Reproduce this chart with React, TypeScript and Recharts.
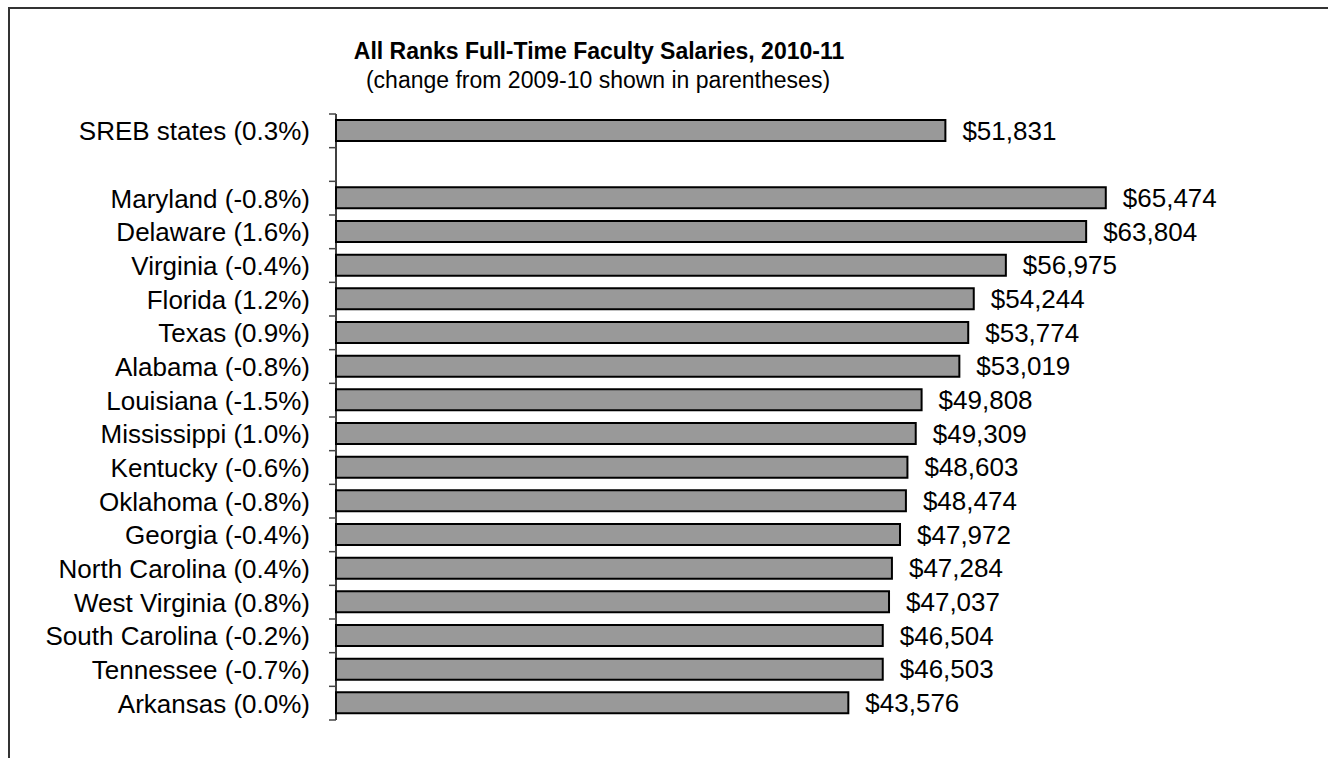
import React from 'react';
import { BarChart, Bar, XAxis, YAxis, LabelList } from 'recharts';

const states = [
  'SREB states', '', 'Maryland', 'Delaware', 'Virginia', 'Florida', 'Texas', 'Alabama',
  'Louisiana', 'Mississippi', 'Kentucky', 'Oklahoma', 'Georgia', 'North Carolina',
  'West Virginia', 'South Carolina', 'Tennessee', 'Arkansas',
];
const changes = [0.3, null, -0.8, 1.6, -0.4, 1.2, 0.9, -0.8, -1.5, 1.0, -0.6, -0.8, -0.4, 0.4, 0.8, -0.2, -0.7, 0.0];
const salaries = [
  51831, null, 65474, 63804, 56975, 54244, 53774, 53019, 49808, 49309,
  48603, 48474, 47972, 47284, 47037, 46504, 46503, 43576,
];

const FONT = '"Liberation Sans", Arial, Helvetica, sans-serif';

const data = states.map((s, i) => ({
  name: s ? `${s} (${(changes[i] as number).toFixed(1)}%)` : '',
  salary: salaries[i],
}));

function CatTick(props: any) {
  const { x, y, payload, index, visibleTicksCount } = props;
  const half = payload?.offset ?? 606 / states.length / 2;
  const isLast = index === (visibleTicksCount ?? states.length) - 1;
  return (
    <g>
      <line x1={x + 19} x2={x + 26} y1={y - half} y2={y - half} stroke="#444" strokeWidth={1.5} />
      {isLast && <line x1={x + 19} x2={x + 26} y1={y + half} y2={y + half} stroke="#444" strokeWidth={1.5} />}
      <text x={x} y={y} dy="0.36em" textAnchor="end" fontSize={26} fontFamily={FONT} fill="#000">
        {payload.value}
      </text>
    </g>
  );
}

export default function App() {
  return (
    <div style={{ position: 'absolute', left: 8, top: 7, width: 1320, height: 751 }}>
      <svg style={{ position: 'absolute', left: 0, top: 0 }} width={1320} height={110}>
        <text x={591} y={52} textAnchor="middle" fontSize={23} fontWeight="bold" fontFamily={FONT} fill="#000">
          All Ranks Full-Time Faculty Salaries, 2010-11
        </text>
        <text x={590} y={81} textAnchor="middle" fontSize={23} fontFamily={FONT} fill="#000">
          (change from 2009-10 shown in parentheses)
        </text>
      </svg>
      <div style={{ position: 'absolute', left: 0, top: 0 }}>
        <BarChart
          width={1320}
          height={740}
          data={data}
          layout="vertical"
          margin={{ top: 107, right: 169, bottom: 27, left: 0 }}
          barSize={21}
        >
          <XAxis type="number" domain={[0, 70000]} hide />
          <YAxis
            type="category"
            dataKey="name"
            width={328}
            interval={0}
            tickLine={false}
            tickSize={7}
            tickMargin={19}
            axisLine={{ stroke: '#000', strokeWidth: 1.5 }}
            tick={(p: any) => <CatTick {...p} />}
          />
          <Bar dataKey="salary" fill="#999999" stroke="#000" strokeWidth={2} isAnimationActive={false}>
            <LabelList
              dataKey="salary"
              position="right"
              offset={17}
              fontSize={26}
              fontFamily={FONT}
              fill="#000"
              formatter={(v: any) => (v == null ? '' : '$' + Number(v).toLocaleString('en-US'))}
            />
          </Bar>
        </BarChart>
      </div>
      <div
        style={{
          position: 'absolute', left: 0, top: 0, width: 1320, height: 751, pointerEvents: 'none',
          borderTop: '2px solid #333', borderLeft: '2px solid #333', boxSizing: 'border-box',
        }}
      />
    </div>
  );
}
